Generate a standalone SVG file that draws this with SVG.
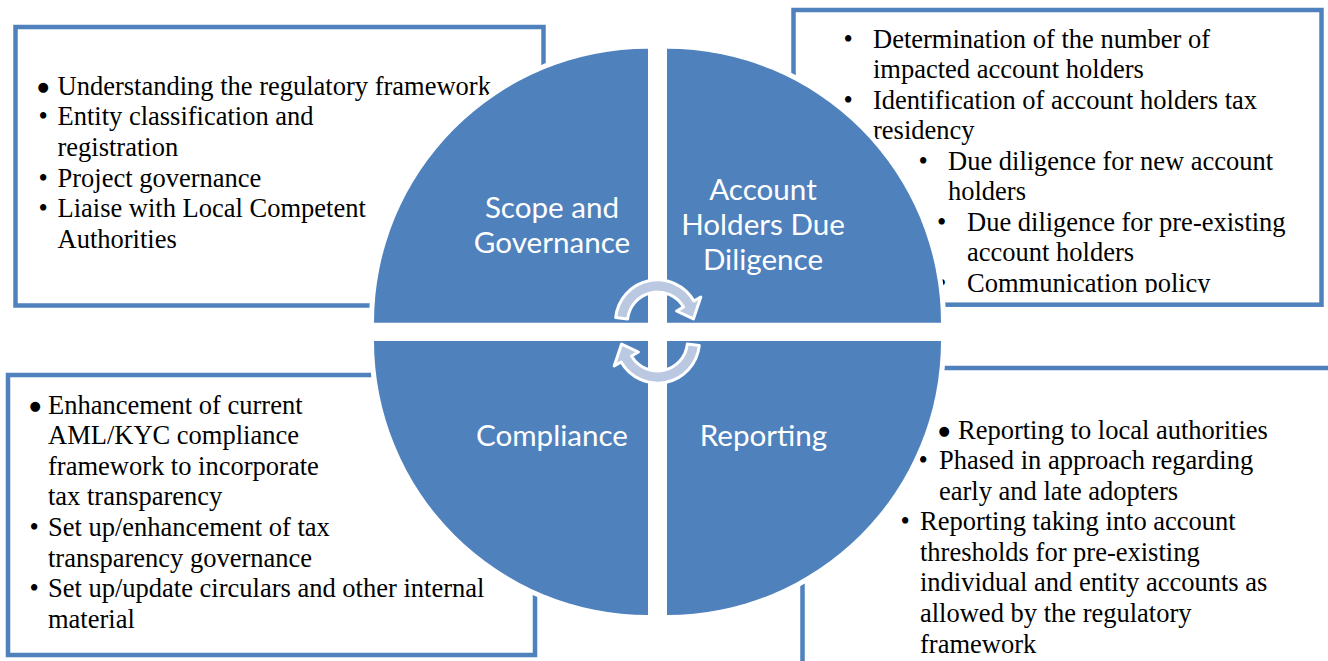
<svg xmlns="http://www.w3.org/2000/svg" width="1328" height="661" viewBox="0 0 1328 661">
<defs>
<style>
.box{fill:none;stroke:#4F81BD;stroke-width:4.5}
.t{font-family:"Liberation Serif","Times New Roman",serif;font-size:26.5px;fill:#000}
.bb{font-family:"DejaVu Sans",sans-serif;font-size:13px;fill:#000}
.q{fill:#4F81BD;stroke:#FFFFFF;stroke-width:10;paint-order:stroke}
.lab{font-family:Lato,"Open Sans",sans-serif;font-size:29.6px;fill:#FFFFFF;text-anchor:middle}
.arr{fill:#BAC8E1;stroke:#FFFFFF;stroke-width:3;stroke-linejoin:round}
</style>
<clipPath id="clipTR"><rect x="795" y="10" width="530" height="283"/></clipPath>
</defs>
<rect x="0" y="0" width="1328" height="661" fill="#FFFFFF"/>

<g id="box-scope">
<rect class="box" x="15.5" y="27" width="528" height="278.5"/>
<text class="bb" x="37.5" y="91">●</text>
<text class="t" x="57.5" y="94.5">Understanding the regulatory framework</text>
<text class="t" x="38.5" y="125.2">•</text>
<text class="t" x="57.5" y="125.2">Entity classification and</text>
<text class="t" x="57.5" y="155.9">registration</text>
<text class="t" x="38.5" y="186.6">•</text>
<text class="t" x="57.5" y="186.6">Project governance</text>
<text class="t" x="38.5" y="217.3">•</text>
<text class="t" x="57.5" y="217.3">Liaise with Local Competent</text>
<text class="t" x="57.5" y="248">Authorities</text>
</g>

<g id="box-duediligence">
<rect class="box" x="793.5" y="10" width="528" height="294.7"/>
<g clip-path="url(#clipTR)">
<text class="t" x="843.5" y="47.5">•</text>
<text class="t" x="873" y="47.5">Determination of the number of</text>
<text class="t" x="873" y="78">impacted account holders</text>
<text class="t" x="843.5" y="108.5">•</text>
<text class="t" x="873" y="108.5">Identification of account holders tax</text>
<text class="t" x="873" y="139">residency</text>
<text class="t" x="918.5" y="169.5">•</text>
<text class="t" x="948" y="169.5">Due diligence for new account</text>
<text class="t" x="948" y="200">holders</text>
<text class="t" x="937" y="230.5">•</text>
<text class="t" x="967" y="230.5">Due diligence for pre-existing</text>
<text class="t" x="967" y="261">account holders</text>
<text class="t" x="937" y="291.5">•</text>
<text class="t" x="967" y="291.5">Communication policy</text>
</g>
</g>

<g id="box-compliance">
<rect class="box" x="8" y="375" width="527" height="280"/>
<text class="bb" x="29.5" y="410">●</text>
<text class="t" x="48" y="413.5">Enhancement of current</text>
<text class="t" x="48" y="444.1">AML/KYC compliance</text>
<text class="t" x="48" y="474.7">framework to incorporate</text>
<text class="t" x="48" y="505.3">tax transparency</text>
<text class="t" x="29.4" y="535.9">•</text>
<text class="t" x="48" y="535.9">Set up/enhancement of tax</text>
<text class="t" x="48" y="566.5">transparency governance</text>
<text class="t" x="29.4" y="597.1">•</text>
<text class="t" x="48" y="597.1">Set up/update circulars and other internal</text>
<text class="t" x="48" y="627.7">material</text>
</g>

<g id="box-reporting">
<rect class="box" x="802.5" y="368" width="560" height="320"/>
<text class="bb" x="938.5" y="435">●</text>
<text class="t" x="958" y="438.5">Reporting to local authorities</text>
<text class="t" x="918.4" y="469">•</text>
<text class="t" x="939" y="469">Phased in approach regarding</text>
<text class="t" x="939" y="499.6">early and late adopters</text>
<text class="t" x="900.4" y="530.2">•</text>
<text class="t" x="920" y="530.2">Reporting taking into account</text>
<text class="t" x="920" y="560.8">thresholds for pre-existing</text>
<text class="t" x="920" y="591.4">individual and entity accounts as</text>
<text class="t" x="920" y="622">allowed by the regulatory</text>
<text class="t" x="920" y="652.6">framework</text>
</g>

<g id="node-scope">
<path class="q" d="M648 322.7 L374 322.7 A274 274 0 0 1 648 48.7 Z"/>
<text class="lab" x="552" y="218.3">Scope and</text>
<text class="lab" x="552" y="252.7">Governance</text>
</g>
<g id="node-duediligence">
<path class="q" d="M667 322.7 L667 48.7 A274 274 0 0 1 941 322.7 Z"/>
<text class="lab" x="763" y="199.5">Account</text>
<text class="lab" x="763" y="235">Holders Due</text>
<text class="lab" x="763" y="270">Diligence</text>
</g>
<g id="node-reporting">
<path class="q" d="M667 341 L941 341 A274 274 0 0 1 667 615 Z"/>
<text class="lab" x="763.5" y="446.4">Reporting</text>
</g>
<g id="node-compliance">
<path class="q" d="M648 341 L648 615 A274 274 0 0 1 374 341 Z"/>
<text class="lab" x="552" y="446.4">Compliance</text>
</g>

<g id="connectors">
<path id="arrow-top" class="arr" d="M615.7 317.6 A42 42 0 0 1 693.9 301 L700.8 297 L693.4 318.9 L676.6 311 L683.5 307 A30 30 0 0 0 627.7 318.9 Z"/>
<path id="arrow-bottom" class="arr" transform="rotate(180 657.5 331.5)" d="M615.7 317.6 A42 42 0 0 1 693.9 301 L700.8 297 L693.4 318.9 L676.6 311 L683.5 307 A30 30 0 0 0 627.7 318.9 Z"/>
</g>
</svg>
